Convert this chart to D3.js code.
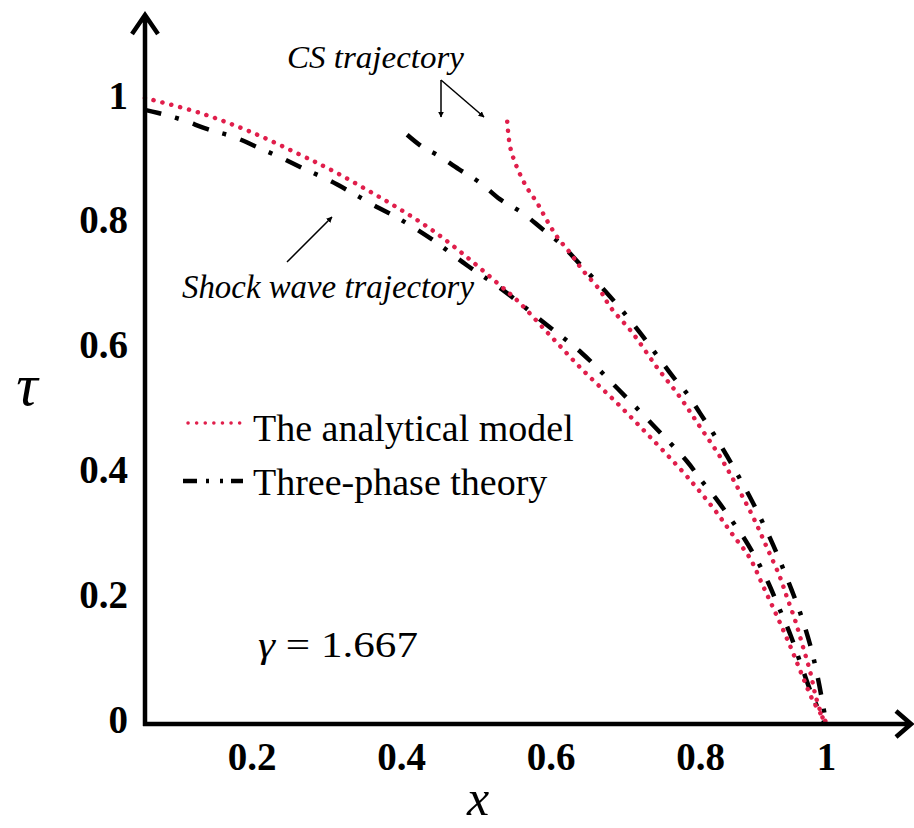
<!DOCTYPE html>
<html>
<head>
<meta charset="utf-8">
<script src="https://cdn.jsdelivr.net/npm/d3@7"></script>
<style>
  body { margin: 0; background: #fff; }
  svg { display: block; }
  text { font-family: "Liberation Serif", "Times New Roman", serif; fill: #000; }
</style>
</head>
<body>
<script>
// Shock wave trajectory, analytical model
const analyticalShockX = [0.057, 0.131, 0.198, 0.265, 0.309, 0.354, 0.398, 0.443, 0.488, 0.532, 0.555, 0.599, 0.643, 0.689, 0.733, 0.777, 0.800, 0.827, 0.852, 0.879, 0.900, 0.922, 0.943, 0.962, 0.979, 1.0];
const analyticalShockTau = [1.0, 0.976, 0.946, 0.909, 0.883, 0.853, 0.822, 0.787, 0.745, 0.700, 0.676, 0.620, 0.564, 0.511, 0.457, 0.401, 0.369, 0.335, 0.300, 0.263, 0.218, 0.170, 0.122, 0.075, 0.035, 0.0];

// Shock wave trajectory, three-phase theory
const threePhaseShockX = [0.057, 0.075, 0.107, 0.141, 0.175, 0.208, 0.240, 0.271, 0.302, 0.333, 0.362, 0.398, 0.443, 0.488, 0.532, 0.590, 0.642, 0.690, 0.737, 0.783, 0.803, 0.827, 0.849, 0.871, 0.890, 0.908, 0.925, 0.943, 0.960, 0.976, 0.997];
const threePhaseShockTau = [0.981, 0.976, 0.965, 0.950, 0.938, 0.921, 0.904, 0.886, 0.869, 0.849, 0.829, 0.806, 0.772, 0.732, 0.696, 0.641, 0.591, 0.534, 0.476, 0.417, 0.386, 0.356, 0.325, 0.293, 0.260, 0.224, 0.184, 0.141, 0.093, 0.048, 0.0];

// CS trajectory, analytical model
const analyticalCSX = [0.542, 0.546, 0.555, 0.568, 0.582, 0.595, 0.609, 0.626, 0.643, 0.666, 0.680, 0.710, 0.742, 0.773, 0.800, 0.832, 0.859, 0.884, 0.906, 0.927, 0.938, 0.951, 0.963, 0.975, 0.984, 0.997];
const analyticalCSTau = [0.962, 0.921, 0.889, 0.857, 0.832, 0.804, 0.777, 0.752, 0.724, 0.692, 0.665, 0.623, 0.569, 0.521, 0.473, 0.425, 0.377, 0.329, 0.280, 0.232, 0.200, 0.163, 0.122, 0.080, 0.040, 0.0];

// CS trajectory, three-phase theory
const threePhaseCSX = [0.408, 0.429, 0.448, 0.477, 0.506, 0.532, 0.562, 0.589, 0.612, 0.639, 0.675, 0.703, 0.724, 0.744, 0.764, 0.784, 0.800, 0.824, 0.843, 0.860, 0.879, 0.895, 0.911, 0.927, 0.943, 0.959, 0.975, 0.987, 1.0];
const threePhaseCSTau = [0.941, 0.921, 0.909, 0.886, 0.864, 0.838, 0.816, 0.790, 0.768, 0.734, 0.688, 0.649, 0.617, 0.585, 0.553, 0.524, 0.495, 0.458, 0.426, 0.396, 0.361, 0.329, 0.295, 0.258, 0.218, 0.175, 0.123, 0.071, 0.0];

const xTicks = [0.2, 0.4, 0.6, 0.8, 1];
const yTicks = [0, 0.2, 0.4, 0.6, 0.8, 1];
const legendLabels = ['The analytical model', 'Three-phase theory'];

const w = 914;
const h = 828;
const red = '#e01e4b';
const serif = '"Liberation Serif", "Times New Roman", serif';

const x = d3.scaleLinear().domain([0, 0.8, 1]).range([102.3, 700, 826]);
const y = d3.scaleLinear().domain([0, 1]).range([722, 98]);

const svg = d3.select('body').append('svg')
  .attr('width', w)
  .attr('height', h);

// marker for the annotation arrows
svg.append('defs').append('marker')
  .attr('id', 'tip')
  .attr('viewBox', '0 0 10 10')
  .attr('refX', 9).attr('refY', 5)
  .attr('markerWidth', 6).attr('markerHeight', 6)
  .attr('markerUnits', 'userSpaceOnUse')
  .attr('orient', 'auto')
  .append('path')
  .attr('d', 'M0,0 L10,5 L0,10 Z')
  .attr('fill', '#000');

const line = d3.line()
  .x(d => x(d[0]))
  .y(d => y(d[1]))
  .curve(d3.curveCatmullRom.alpha(0.5));

const zip = (a, b) => a.map((v, i) => [v, b[i]]);

// Curves
const dotted = { stroke: red, width: 4.5, dash: '0.1,9', cap: 'round' };
const dashDot = { stroke: '#000', width: 4.5, dash: '17,14,4,15', cap: 'butt' };

const series = [
  { data: zip(threePhaseShockX, threePhaseShockTau), style: dashDot },
  { data: zip(threePhaseCSX, threePhaseCSTau), style: dashDot },
  { data: zip(analyticalShockX, analyticalShockTau), style: dotted },
  { data: zip(analyticalCSX, analyticalCSTau), style: dotted },
];

svg.append('g').selectAll('path')
  .data(series)
  .enter()
  .append('path')
  .attr('d', d => line(d.data))
  .attr('fill', 'none')
  .attr('stroke', d => d.style.stroke)
  .attr('stroke-width', d => d.style.width)
  .attr('stroke-dasharray', d => d.style.dash)
  .attr('stroke-linecap', d => d.style.cap);

// Axes (arrow lines)
const x0 = 145;
const yAxisLine = y(0) + 2;
svg.append('path')
  .attr('d', `M${x0},${yAxisLine + 2} V15 M132,34 L${x0},15 L158,34`)
  .attr('fill', 'none').attr('stroke', '#000').attr('stroke-width', 4.5);
svg.append('path')
  .attr('d', `M${x0 - 2},${yAxisLine} H911 M896,711 L911,${yAxisLine} L896,737`)
  .attr('fill', 'none').attr('stroke', '#000').attr('stroke-width', 4.5);

// Tick labels
const xAxis = svg.append('g')
  .attr('transform', `translate(0, ${yAxisLine})`)
  .call(d3.axisBottom(x).tickValues(xTicks).tickSize(0).tickFormat(d3.format('~g')));
xAxis.select('.domain').remove();
xAxis.selectAll('text')
  .attr('y', 46).attr('dy', 0)
  .style('font-family', serif)
  .style('font-size', '39px')
  .style('font-weight', 'bold')
  .style('fill', '#000');

const yAxis = svg.append('g')
  .attr('transform', 'translate(128, 0)')
  .call(d3.axisLeft(y).tickValues(yTicks).tickSize(0).tickFormat(d3.format('~g')));
yAxis.select('.domain').remove();
yAxis.selectAll('text')
  .attr('x', 0).attr('y', 10).attr('dy', 0)
  .style('font-family', serif)
  .style('font-size', '39px')
  .style('font-weight', 'bold')
  .style('fill', '#000');

// Axis titles
svg.append('text')
  .attr('x', 27).attr('y', 405)
  .attr('text-anchor', 'middle')
  .style('font-style', 'italic')
  .style('font-size', '60px')
  .text('τ');

svg.append('text')
  .attr('x', 478).attr('y', 815)
  .attr('text-anchor', 'middle')
  .style('font-style', 'italic')
  .style('font-size', '50px')
  .text('x');

// Legend
const legend = svg.append('g');
legend.append('line')
  .attr('x1', 188).attr('x2', 245).attr('y1', 423).attr('y2', 423)
  .attr('stroke', red).attr('stroke-width', 3.5)
  .attr('stroke-dasharray', '0.1,8.5').attr('stroke-linecap', 'round');
legend.append('line')
  .attr('x1', 183).attr('x2', 243).attr('y1', 481).attr('y2', 481)
  .attr('stroke', '#000').attr('stroke-width', 4.5)
  .attr('stroke-dasharray', '14,9,3,11,3,8,12');
legend.selectAll('text')
  .data(legendLabels)
  .enter()
  .append('text')
  .attr('x', 253)
  .attr('y', (d, i) => 441 + i * 54)
  .style('font-size', '38px')
  .text(d => d);

// Annotations
svg.append('text')
  .attr('x', 287).attr('y', 68)
  .attr('textLength', 177).attr('lengthAdjust', 'spacingAndGlyphs')
  .style('font-style', 'italic')
  .style('font-size', '31px')
  .text('CS trajectory');

svg.append('path')
  .attr('d', 'M441,80 L441,117')
  .attr('stroke', '#000').attr('stroke-width', 1.5)
  .attr('marker-end', 'url(#tip)');
svg.append('path')
  .attr('d', 'M441,80 L484,117')
  .attr('stroke', '#000').attr('stroke-width', 1.5)
  .attr('marker-end', 'url(#tip)');

svg.append('text')
  .attr('x', 182).attr('y', 298)
  .attr('textLength', 292).attr('lengthAdjust', 'spacingAndGlyphs')
  .style('font-style', 'italic')
  .style('font-size', '34px')
  .text('Shock wave trajectory');

svg.append('path')
  .attr('d', 'M287,262 L332,217')
  .attr('stroke', '#000').attr('stroke-width', 1.5)
  .attr('marker-end', 'url(#tip)');

// Gamma value
const gamma = svg.append('text')
  .attr('x', 258).attr('y', 657)
  .attr('textLength', 160).attr('lengthAdjust', 'spacingAndGlyphs')
  .style('font-size', '35px');
gamma.append('tspan').style('font-style', 'italic').text('γ');
gamma.append('tspan').text(' = 1.667');
</script>
</body>
</html>
